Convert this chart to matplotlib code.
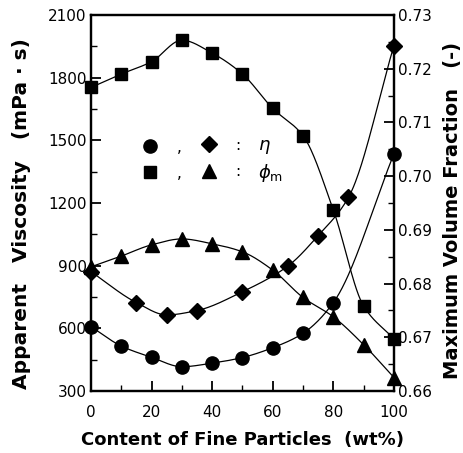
import numpy as np
import matplotlib.pyplot as plt
from matplotlib.ticker import MultipleLocator

# data
x_eta_c = [0, 10, 20, 30, 40, 50, 60, 70, 80, 100]
eta_c = [608, 515, 461, 416, 433, 460, 507, 576, 723, 1435]

x_eta_d = [0, 15, 25, 35, 50, 65, 75, 85, 100]
eta_d = [871, 723, 664, 685, 775, 898, 1044, 1227, 1953]

x_phi = [0, 10, 20, 30, 40, 50, 60, 70, 80, 90, 100]
phi_s = [0.7165, 0.7190, 0.7213, 0.7253, 0.7229, 0.7190, 0.7126, 0.7075, 0.6937, 0.6758, 0.6697]
phi_t = [0.6831, 0.6851, 0.6872, 0.6883, 0.6874, 0.6859, 0.6825, 0.6774, 0.6738, 0.6686, 0.6625]


def smooth(xs, ys, n=300):
    # monotone cubic (pchip) guide line through the points
    xs = np.asarray(xs, float)
    ys = np.asarray(ys, float)
    h = np.diff(xs)
    dl = np.diff(ys) / h
    k = len(xs)
    m = np.zeros(k)
    for i in range(1, k - 1):
        if dl[i - 1] * dl[i] > 0:
            w1 = 2 * h[i] + h[i - 1]
            w2 = h[i] + 2 * h[i - 1]
            m[i] = (w1 + w2) / (w1 / dl[i - 1] + w2 / dl[i])
    m[0] = dl[0]
    m[-1] = dl[-1]
    xx = np.linspace(xs[0], xs[-1], n)
    j = np.clip(np.searchsorted(xs, xx) - 1, 0, k - 2)
    t = (xx - xs[j]) / h[j]
    h00 = 2 * t ** 3 - 3 * t ** 2 + 1
    h10 = t ** 3 - 2 * t ** 2 + t
    h01 = -2 * t ** 3 + 3 * t ** 2
    h11 = t ** 3 - t ** 2
    yy = h00 * ys[j] + h10 * h[j] * m[j] + h01 * ys[j + 1] + h11 * h[j] * m[j + 1]
    return xx, yy


plt.rcParams['font.family'] = 'DejaVu Sans'

fig = plt.figure(figsize=(4.64, 4.53), dpi=100)
ax = fig.add_axes([0.196, 0.137, 0.653, 0.830])
ax2 = ax.twinx()

ms = 9.5
ax.plot(*smooth(x_eta_c, eta_c), color='black', lw=0.9, zorder=2)
ax.plot(x_eta_c, eta_c, 'o', color='black', ms=ms, clip_on=False, zorder=3)
ax.plot(*smooth(x_eta_d, eta_d), color='black', lw=0.9, zorder=2)
ax.plot(x_eta_d, eta_d, 'D', color='black', ms=ms * 0.85, clip_on=False, zorder=3)

ax2.plot(*smooth(x_phi, phi_s), color='black', lw=0.9, zorder=2)
ax2.plot(x_phi, phi_s, 's', color='black', ms=ms * 0.9, clip_on=False, zorder=3)
ax2.plot(*smooth(x_phi, phi_t), color='black', lw=0.9, zorder=2)
ax2.plot(x_phi, phi_t, '^', color='black', ms=ms * 1.05, clip_on=False, zorder=3)

ax.set_xlim(0, 100)
ax.set_ylim(300, 2100)
ax2.set_ylim(0.66, 0.73)
ax.xaxis.set_major_locator(MultipleLocator(20))
ax.xaxis.set_minor_locator(MultipleLocator(10))
ax.yaxis.set_major_locator(MultipleLocator(300))
ax.yaxis.set_minor_locator(MultipleLocator(150))
ax2.yaxis.set_major_locator(MultipleLocator(0.01))
ax2.yaxis.set_minor_locator(MultipleLocator(0.005))
ax2.yaxis.set_major_formatter(plt.FuncFormatter(lambda v, p: f'{v:.2f}'))

for a in (ax, ax2):
    for s in a.spines.values():
        s.set_linewidth(1.6)
    a.tick_params(which='major', direction='in', length=7, width=1.3, labelsize=11, pad=3)
    a.tick_params(which='minor', direction='in', length=4, width=1.0)
ax.tick_params(axis='x', pad=10)

ax.set_xlabel('Content of Fine Particles  (wt%)', fontsize=13, fontweight='bold', labelpad=8)
ax.set_ylabel('Apparent   Viscosity   (mPa · s)', fontsize=14.5, fontweight='bold')
ax2.set_ylabel('Maximum Volume Fraction   (-)', fontsize=14, fontweight='bold')
ax.yaxis.set_label_coords(-0.198, 0.473)
ax2.yaxis.set_label_coords(1.162, 0.481)

# key inside the plot
ax.plot([19.5], [1475], 'o', color='black', ms=ms)
ax.plot([39], [1480], 'D', color='black', ms=ms * 0.85)
ax.plot([19.5], [1350], 's', color='black', ms=ms * 0.9)
ax.plot([39], [1355], '^', color='black', ms=ms * 1.05)
for yy in (1465, 1340):
    ax.text(29, yy, ',', fontsize=11, ha='center', va='center')
    ax.text(48.5, yy + 10, ':', fontsize=11, ha='center', va='center')
ax.text(55, 1470, r'$\eta$', fontsize=13, ha='left', va='center')
ax.text(55, 1345, r'$\phi_{\rm m}$', fontsize=13, ha='left', va='center')

fig.savefig('out.png', dpi=100)
